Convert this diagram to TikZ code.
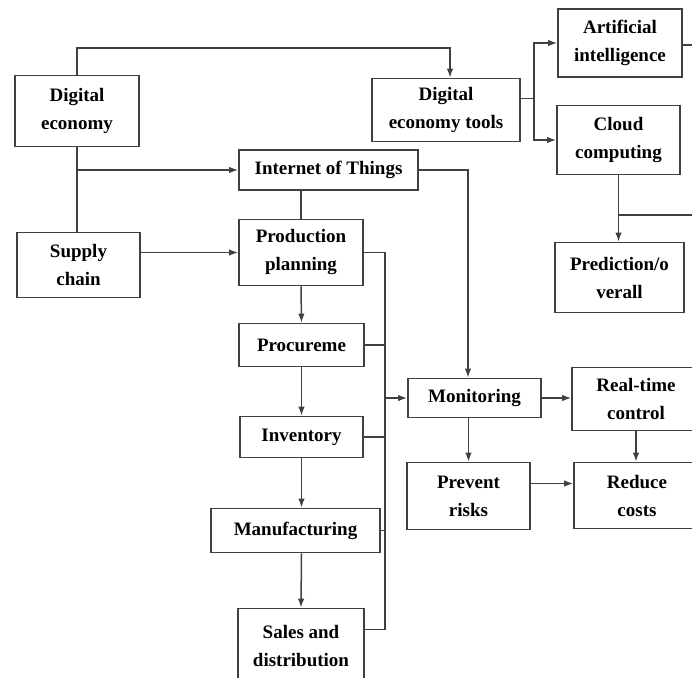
\documentclass[tikz,border=0pt]{standalone}
\usepackage{fontspec}
\setmainfont{Liberation Serif}
\usepackage{tikz}
\usetikzlibrary{arrows.meta}
\tikzset{box/.style={draw=black!75, line width=1.7pt, align=center, inner sep=0pt, text=black,
    font=\bfseries\fontsize{19}{28}\selectfont}}

\begin{document}
\begin{tikzpicture}[x=1pt, y=-1pt, color=black!75, line width=1.5pt, >={Latex[length=9pt,width=6.5pt]}]
    \useasboundingbox (0,0) rectangle (692,677);
    \clip (0,0) rectangle (692,677);

    \node[box, minimum width=124pt, minimum height=71pt] at (77, 111) (DE) {Digital\\economy};
    \node[box, minimum width=148pt, minimum height=63pt] at (446, 110) (tools) {Digital\\economy tools};
    \node[box, minimum width=124pt, minimum height=68pt] at (620, 43) (AI) {Artificial\\intelligence};
    \node[box, minimum width=123pt, minimum height=69pt] at (618.5, 140) (cloud) {Cloud\\computing};
    \node[box, minimum width=129pt, minimum height=70pt] at (619.5, 277.5) (pred) {Prediction/o\\verall};
    \node[box, minimum width=179pt, minimum height=40pt] at (328.5, 170) (IoT) {Internet of Things};
    \node[box, minimum width=123pt, minimum height=65pt] at (78.5, 265) (SC) {Supply\\chain};
    \node[box, minimum width=124pt, minimum height=66pt] at (301, 252.5) (PP) {Production\\planning};
    \node[box, minimum width=125pt, minimum height=43pt] at (301.5, 345) (proc) {Procureme};
    \node[box, minimum width=123pt, minimum height=41pt] at (301.5, 437) (inv) {Inventory};
    \node[box, minimum width=169pt, minimum height=44pt] at (295.5, 530.5) (manu) {Manufacturing};
    \node[box, minimum width=126pt, minimum height=76pt] at (301, 646.5) (sales) {Sales and\\distribution};
    \node[box, minimum width=133pt, minimum height=39pt] at (474.5, 398) (mon) {Monitoring};
    \node[box, minimum width=128pt, minimum height=63pt] at (636, 399) (rt) {Real-time\\control};
    \node[box, minimum width=123pt, minimum height=67pt] at (468.5, 496) (prev) {Prevent\\risks};
    \node[box, minimum width=126pt, minimum height=66pt] at (637, 495.5) (red) {Reduce\\costs};

    % top row
    \coordinate (top) at (450, 48);
    \draw[->] (DE.north) |- (top) -- (top |- tools.north);
    \coordinate (split) at (534, 98.5);
    \draw (split -| tools.east) -- (split);
    \draw[->] (split) |- (AI.west);
    \draw[->] (split) |- (cloud.west);
    \coordinate (AIout) at (692, 45);
    \draw (AI.east |- AIout) -- (AIout);
    \draw[->] (cloud.south) -- (cloud.south |- pred.north);
    \coordinate (cloudout) at (692, 215);
    \draw (cloud.south |- cloudout) -- (cloudout);

    % left column
    \draw (DE.south) -- (DE.south |- SC.north);
    \draw[->] (DE.south |- IoT.west) -- (IoT.west);
    \draw[->] (IoT.east) -| ([xshift=-6.5pt]mon.north);
    \draw (PP.north |- IoT.south) -- (PP.north);
    \draw[->] (SC.east |- PP.west) -- (PP.west);
    \draw[->] (PP.south) -- (proc.north);
    \draw[->] (proc.south) -- (inv.north);
    \draw[->] (inv.south) -- (inv.south |- manu.north);
    \draw[->] (inv.south |- manu.south) -- (sales.north);

    % bus into monitoring
    \coordinate (bus) at (385, 398);
    \draw (PP.east) -| (bus);
    \draw (bus) |- ([yshift=17pt]sales.east);
    \foreach \n in {proc, inv, manu}
        \draw (\n.east) -- (\n.east -| bus);
    \draw[->] (bus) -- (mon.west);

    % outcomes
    \draw[->] (mon.east) -- (mon.east -| rt.west);
    \draw[->] (prev.north |- mon.south) -- (prev.north);
    \draw[->] (rt.south) -- (rt.south |- red.north);
    \draw[->] ([yshift=12.5pt]prev.east) -- ([yshift=12.5pt]prev.east -| red.west);
\end{tikzpicture}
\end{document}
